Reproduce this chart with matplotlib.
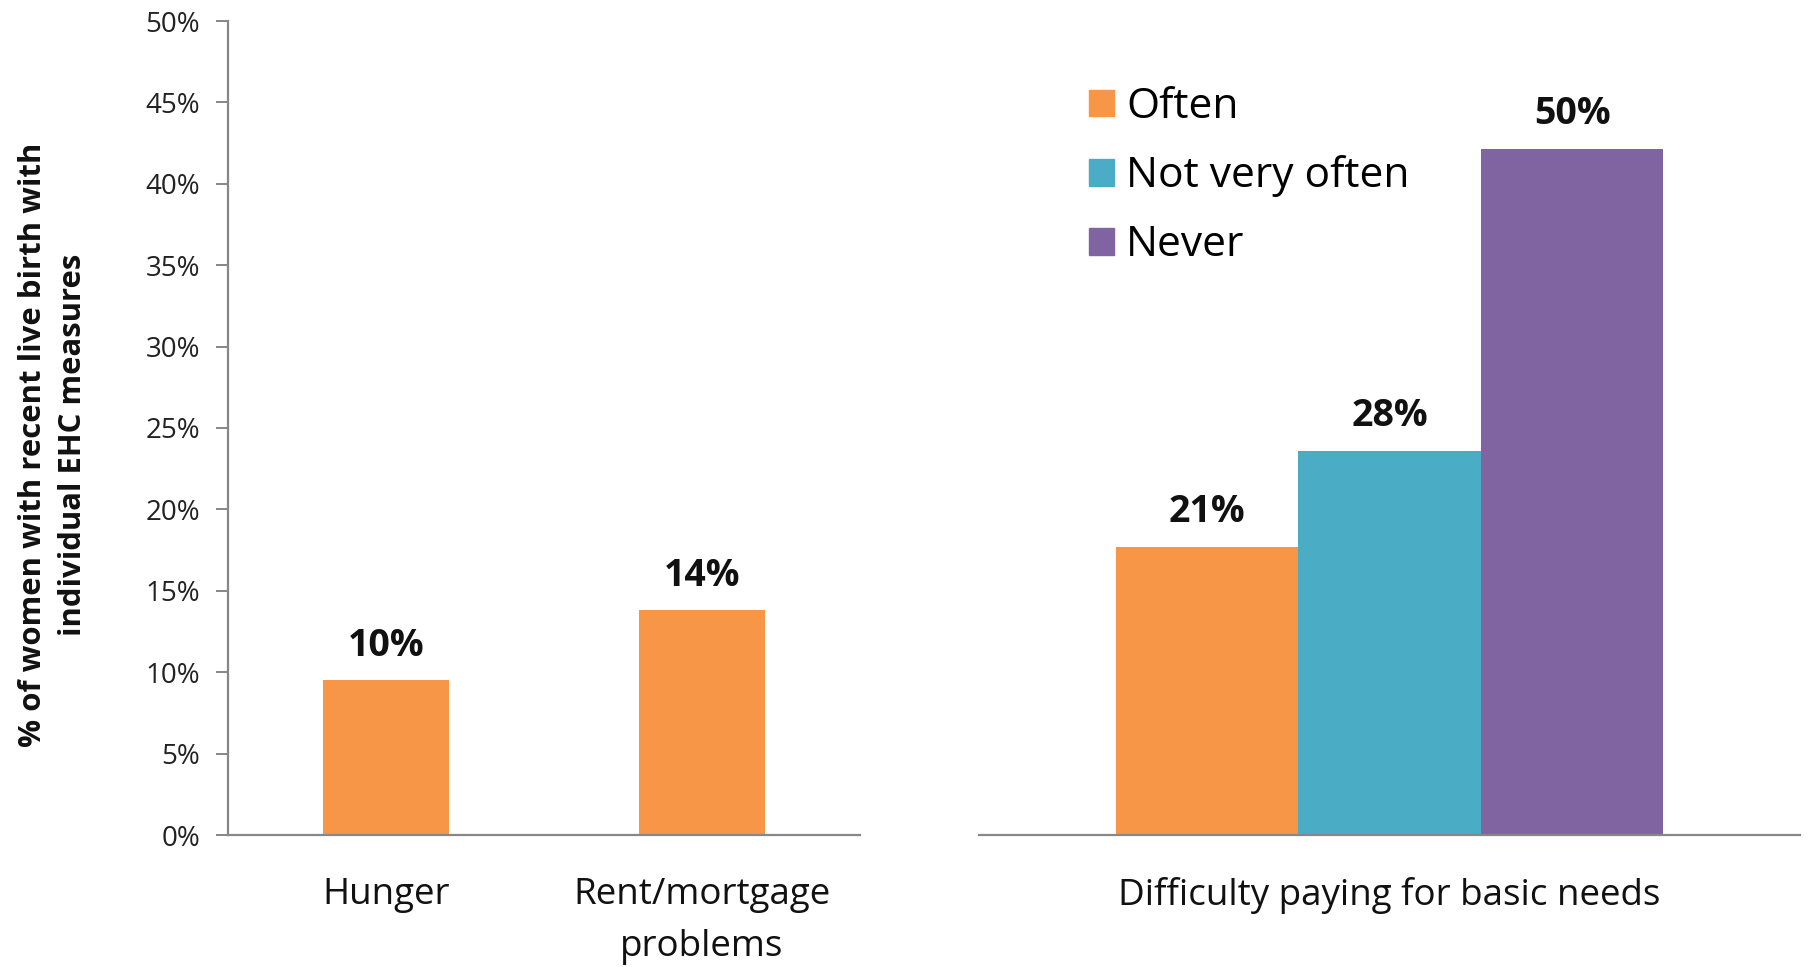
import matplotlib
matplotlib.use("Agg")
import matplotlib.pyplot as plt
from matplotlib.patches import Patch

plt.rcParams['font.family'] = ['Open Sans', 'DejaVu Sans']

# Left panel data
left_categories = ["Hunger", "Rent/mortgage\nproblems"]
left_values = [9.5, 13.8]
left_labels = ["10%", "14%"]

# Right panel data
right_category = "Difficulty paying for basic needs"
right_series = ["Often", "Not very often", "Never"]
right_values = [21, 28, 50]
right_labels = ["21%", "28%", "50%"]

yticks = [0, 5, 10, 15, 20, 25, 30, 35, 40, 45, 50]
ytick_labels = [f"{v}%" for v in yticks]

colors = ["#F79646", "#4BACC6", "#8064A2"]
axis_color = "#878787"

W, H = 1809, 967
fig = plt.figure(figsize=(W / 100, H / 100), dpi=100)

bottom = (H - 835) / H
height = (835 - 21) / H
axL = fig.add_axes([228 / W, bottom, (860 - 228) / W, height])
axR = fig.add_axes([979 / W, bottom, (1800 - 979) / W, height])

# Left panel
xL = list(range(len(left_categories)))
axL.bar(xL, left_values, width=0.4, color=colors[0])
axL.set_xlim(-0.5, len(left_categories) - 0.5)
axL.set_ylim(0, 50)
axL.set_yticks(yticks)
axL.set_yticklabels(ytick_labels, fontsize=20, color="#222222")
axL.set_xticks(xL)
axL.set_xticklabels(left_categories, fontsize=26.5, color="#111111", linespacing=1.6)
axL.tick_params(axis='y', length=9, width=1.4, color=axis_color, pad=11)
axL.tick_params(axis='x', length=0, pad=30)
for s in ["top", "right"]:
    axL.spines[s].set_visible(False)
for s in ["left", "bottom"]:
    axL.spines[s].set_color(axis_color)
    axL.spines[s].set_linewidth(1.6)
for x, v, lab in zip(xL, left_values, left_labels):
    axL.annotate(lab, (x, v), xytext=(0, 11), textcoords="offset points",
                 ha="center", va="bottom", fontsize=27, fontweight="bold", color="#111111")

fig.text(53 / W, 1 - 445 / H, "% of women with recent live birth with\nindividual EHC measures",
         rotation=90, ha="center", va="center", multialignment="center",
         fontsize=22.4, fontweight="bold", color="#111111", linespacing=1.45)

# Right panel
n = len(right_series)
bw = 0.667 / n
for i, (name, v, lab) in enumerate(zip(right_series, right_values, right_labels)):
    x = (i - (n - 1) / 2) * bw
    axR.bar(x, v, width=bw, color=colors[i], label=name)
    axR.annotate(lab, (x, v), xytext=(0, 11), textcoords="offset points",
                 ha="center", va="bottom", fontsize=27, fontweight="bold", color="#111111")
axR.set_xlim(-0.5, 0.5)
axR.set_ylim(0, 59.3)
axR.set_yticks([])
axR.set_xticks([0])
axR.set_xticklabels([right_category], fontsize=26.5, color="#111111")
axR.tick_params(axis='x', length=0, pad=30)
for s in ["top", "right", "left"]:
    axR.spines[s].set_visible(False)
axR.spines["bottom"].set_color(axis_color)
axR.spines["bottom"].set_linewidth(1.6)

handles = [Patch(color=c, label=l) for c, l in zip(colors, right_series)]
fig.legend(handles=handles, loc="upper left", bbox_to_anchor=(1089 / W, 1 - 86 / H),
           frameon=False, fontsize=30.6, handlelength=0.59, handleheight=0.59,
           handletextpad=0.28, labelspacing=0.64, borderaxespad=0, borderpad=0)

fig.savefig("out.png", dpi=100, facecolor="white")
